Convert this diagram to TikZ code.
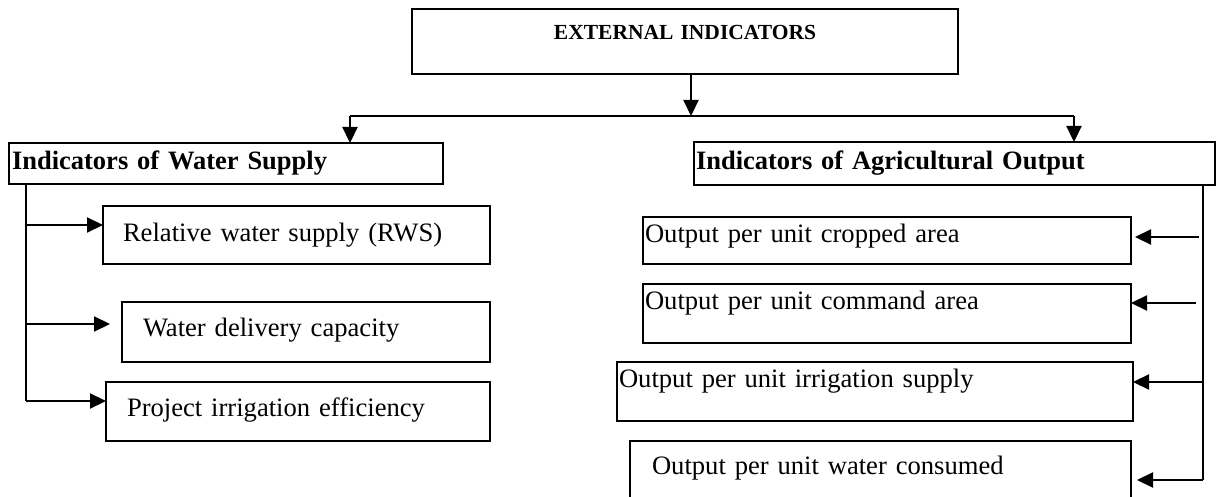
\documentclass[tikz,border=0pt]{standalone}
\usepackage{fontspec}
\setmainfont{Liberation Serif}
\usetikzlibrary{arrows.meta}

\begin{document}
\begin{tikzpicture}[x=0.5pt,y=-0.5pt,
  box/.style={draw, line width=1pt, anchor=north west, inner ysep=0pt, outer sep=0pt, align=left, font=\fontsize{13.3}{16}\selectfont},
  dim/.style n args={4}{text width=#1pt, inner xsep=#2pt, text height=#3pt, text depth=#4pt},
  head/.style={font=\bfseries\fontsize{13.25}{16}\selectfont},
  wire/.style={line width=1.1pt},
  arr/.style={line width=1.1pt, -{Triangle[length=8pt,width=7.5pt]}}]

\useasboundingbox (0,0) rectangle (1217,497);

% top box
\node[box, dim={273}{0}{15.5}{17}, align=center, font=\bfseries\fontsize{10.75}{13}\selectfont] (ext) at (412,9) {EXTERNAL INDICATORS};

% two groups
\node[box, head, dim={214}{1.5}{13.5}{7}] (lh) at (9,143) {Indicators of Water Supply};
\node[box, head, dim={258.5}{1}{14}{7.5}] (rh) at (694,142) {Indicators of Agricultural Output};

% water supply items
\node[box, dim={173.5}{10}{18}{11}] (L1) at (103,206) {Relative water supply (RWS)};
\node[box, dim={163}{10.5}{17.5}{12.5}] (L2) at (122,302) {Water delivery capacity};
\node[box, dim={171}{10.5}{17.5}{12}] (L3) at (106,382) {Project irrigation efficiency};

% agricultural output items
\node[box, dim={242}{1}{13}{10.5}] (R1) at (643,217) {Output per unit cropped area};
\node[box, dim={242}{1}{13}{16.5}] (R2) at (643,284) {Output per unit command area};
\node[box, dim={256}{1}{13}{16.5}] (R3) at (617,362) {Output per unit irrigation supply};
\node[box, dim={228.5}{11}{17}{23}] (R4) at (630,441) {Output per unit water consumed};

% split
\coordinate (split) at (691,116);
\coordinate (busL) at (350,116);
\coordinate (busR) at (1074,116);
\draw[arr] (ext.south -| split) -- (split);
\draw[wire] (busL) -- (busR);
\draw[arr] (busL) -- (busL |- lh.north);
\draw[arr] (busR) -- (busR |- rh.north);

% left branch
\coordinate (s1) at (26,225);
\coordinate (s2) at (26,324);
\coordinate (s3) at (26,401);
\draw[wire] (lh.south -| s1) -- (s3);
\draw[arr] (s1) -- (s1 -| L1.west);
\draw[arr] (s2) -- ([xshift=-6pt]s2 -| L2.west);
\draw[arr] (s3) -- (s3 -| L3.west);

% right branch
\coordinate (t1) at (1203,237);
\coordinate (t2) at (1203,303);
\coordinate (t3) at (1203,382);
\coordinate (t4) at (1203,480);
\draw[wire] (rh.south -| t1) -- (t4);
\draw[arr] ([xshift=-2pt]t1) -- ([xshift=2pt]t1 -| R1.east);
\draw[arr] ([xshift=-3.5pt]t2) -- (t2 -| R2.east);
\draw[arr] (t3) -- (t3 -| R3.east);
\draw[arr] (t4) -- ([xshift=3pt]t4 -| R4.east);
\end{tikzpicture}
\end{document}
